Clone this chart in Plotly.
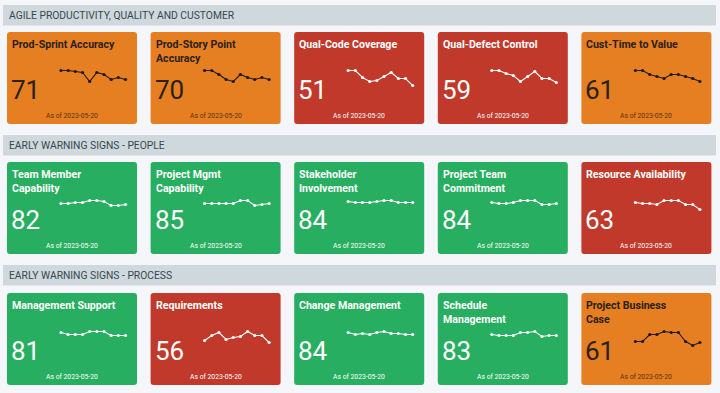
import plotly.graph_objects as go

# ---------------- data ----------------
sections = ["AGILE PRODUCTIVITY, QUALITY AND CUSTOMER",
            "EARLY WARNING SIGNS - PEOPLE",
            "EARLY WARNING SIGNS - PROCESS"]

titles = [
    "Prod-Sprint Accuracy", "Prod-Story Point<br>Accuracy", "Qual-Code Coverage",
    "Qual-Defect Control", "Cust-Time to Value",
    "Team Member<br>Capability", "Project Mgmt<br>Capability", "Stakeholder<br>Involvement",
    "Project Team<br>Commitment", "Resource Availability",
    "Management Support", "Requirements", "Change Management",
    "Schedule<br>Management", "Project Business<br>Case",
]
scores = [71, 70, 51, 59, 61, 82, 85, 84, 84, 63, 81, 56, 84, 83, 61]
status = ["warn", "warn", "bad", "bad", "warn",
          "good", "good", "good", "good", "bad",
          "good", "bad", "good", "good", "warn"]
as_of = "As of 2023-05-20"

periods = list(range(10))
hist_prod_sprint = [80, 80, 79, 78, 69, 78, 76, 71, 73, 71]
hist_story_point = [79, 79, 75, 70, 68, 75, 72, 70, 72, 70]
hist_code_cov = [66, 66, 59, 55, 56, 60, 64, 58, 58, 51]
hist_defect = [71, 71, 68, 66, 60, 65, 70, 63, 63, 59]
hist_time_value = [72, 72, 68, 66, 64, 68, 68, 66, 64, 61]
hist_team_member = [83, 83, 84, 84, 86, 86, 85, 81, 81, 82]
hist_pm_cap = [85, 85, 85, 85, 85, 88, 88, 83, 84, 85]
hist_stakeholder = [85, 84, 84, 84, 85, 86, 86, 84, 84, 84]
hist_commitment = [85, 84, 84, 85, 87, 87, 87, 83, 83, 84]
hist_resource = [70, 69, 69, 68, 72, 72, 72, 68, 68, 63]
hist_mgmt_support = [84, 82, 82, 82, 85, 85, 85, 81, 81, 81]
hist_requirements = [58, 63, 66, 59, 61, 62, 67, 63, 63, 56]
hist_change = [86, 84, 85, 84, 86, 87, 85, 85, 84, 84]
hist_schedule = [84, 83, 83, 83, 86, 86, 87, 82, 83, 83]
hist_business = [62, 62, 69, 69, 72, 71, 71, 62, 58, 61]

histories = [hist_prod_sprint, hist_story_point, hist_code_cov, hist_defect, hist_time_value,
             hist_team_member, hist_pm_cap, hist_stakeholder, hist_commitment, hist_resource,
             hist_mgmt_support, hist_requirements, hist_change, hist_schedule, hist_business]

# ---------------- style / layout ----------------
W, H = 720, 393
BG = "#f4f6fa"
HEADER_BG = "#cfd8dc"
CARD_COL = {"warn": "#e67e22", "bad": "#c0392b", "good": "#27ae60"}
TEXT_COL = {"warn": "#2a2118", "bad": "#ffffff", "good": "#ffffff"}
SMALL_COL = {"warn": "#5a3410", "bad": "#ffffff", "good": "#ffffff"}
LINE_COL = {"warn": "#1f1a16", "bad": "#ffffff", "good": "#ffffff"}
FONT = "Roboto"

header_tops = [5, 135, 265]
header_h = 20.5
card_tops = [32, 162, 293]
card_h = 92
card_w = 130
card_lefts = [7 + i * 143.6 for i in range(5)]


def px(x):
    return x / W


def py(y):
    return 1 - y / H


def rounded_rect(x0, y0, x1, y1, r):
    pts = []
    pts.append(f"M {px(x0 + r)},{py(y0)}")
    pts.append(f"L {px(x1 - r)},{py(y0)}")
    pts.append(f"Q {px(x1)},{py(y0)} {px(x1)},{py(y0 + r)}")
    pts.append(f"L {px(x1)},{py(y1 - r)}")
    pts.append(f"Q {px(x1)},{py(y1)} {px(x1 - r)},{py(y1)}")
    pts.append(f"L {px(x0 + r)},{py(y1)}")
    pts.append(f"Q {px(x0)},{py(y1)} {px(x0)},{py(y1 - r)}")
    pts.append(f"L {px(x0)},{py(y0 + r)}")
    pts.append(f"Q {px(x0)},{py(y0)} {px(x0 + r)},{py(y0)}")
    pts.append("Z")
    return " ".join(pts)


fig = go.Figure()
shapes = []
annotations = []
layout_axes = {}

for s, top in zip(sections, header_tops):
    shapes.append(dict(type="rect", xref="paper", yref="paper",
                       x0=px(3), x1=px(716), y0=py(top + header_h), y1=py(top),
                       fillcolor=HEADER_BG, line=dict(width=0), layer="below"))
    annotations.append(dict(text=s, xref="paper", yref="paper",
                            x=px(7), y=py(top + header_h / 2), xanchor="left", yanchor="middle",
                            showarrow=False, font=dict(family=FONT, size=10.3, color="#37474f")))

for i in range(15):
    r, c = divmod(i, 5)
    left = card_lefts[c]
    top = card_tops[r]
    st = status[i]
    shapes.append(dict(type="path", xref="paper", yref="paper",
                       path=rounded_rect(left, top, left + card_w, top + card_h, 3),
                       fillcolor=CARD_COL[st], line=dict(width=0), layer="below"))
    annotations.append(dict(text="<b>" + titles[i] + "</b>", xref="paper", yref="paper",
                            x=px(left + 3), y=py(top + 4), xanchor="left", yanchor="top",
                            align="left", showarrow=False,
                            font=dict(family=FONT, size=10.6, color=TEXT_COL[st])))
    annotations.append(dict(text=str(scores[i]), xref="paper", yref="paper",
                            x=px(left + 2), y=py(top + 58), xanchor="left", yanchor="middle",
                            showarrow=False,
                            font=dict(family=FONT, size=26, color=TEXT_COL[st])))
    annotations.append(dict(text=as_of, xref="paper", yref="paper",
                            x=px(left + card_w / 2), y=py(top + 84), xanchor="center",
                            yanchor="middle", showarrow=False,
                            font=dict(family=FONT, size=6.8, color=SMALL_COL[st])))
    n = i + 1
    xa = "x" if n == 1 else f"x{n}"
    ya = "y" if n == 1 else f"y{n}"
    hist = histories[i]
    mx = max(hist)
    fig.add_trace(go.Scatter(x=periods, y=hist, xaxis=xa, yaxis=ya, mode="lines+markers",
                             line=dict(color=LINE_COL[st], width=1.1),
                             marker=dict(color=LINE_COL[st], size=3.2),
                             cliponaxis=False, showlegend=False, hoverinfo="skip"))
    xkey = "xaxis" if n == 1 else f"xaxis{n}"
    ykey = "yaxis" if n == 1 else f"yaxis{n}"
    layout_axes[xkey] = dict(domain=[px(left + 54), px(left + 118.5)], range=[0, 9],
                             visible=False, anchor=ya, fixedrange=True)
    layout_axes[ykey] = dict(domain=[py(top + 60), py(top + 32)], range=[mx - 21.5, mx + 6.5],
                             visible=False, anchor=xa, fixedrange=True)

fig.update_layout(width=W, height=H, margin=dict(l=0, r=0, t=0, b=0),
                  paper_bgcolor=BG, plot_bgcolor="rgba(0,0,0,0)",
                  shapes=shapes, annotations=annotations, **layout_axes)

fig.write_html("out.html", config={"displayModeBar": False},
               post_script="document.body.style.margin='0';document.body.style.overflow='hidden';")
